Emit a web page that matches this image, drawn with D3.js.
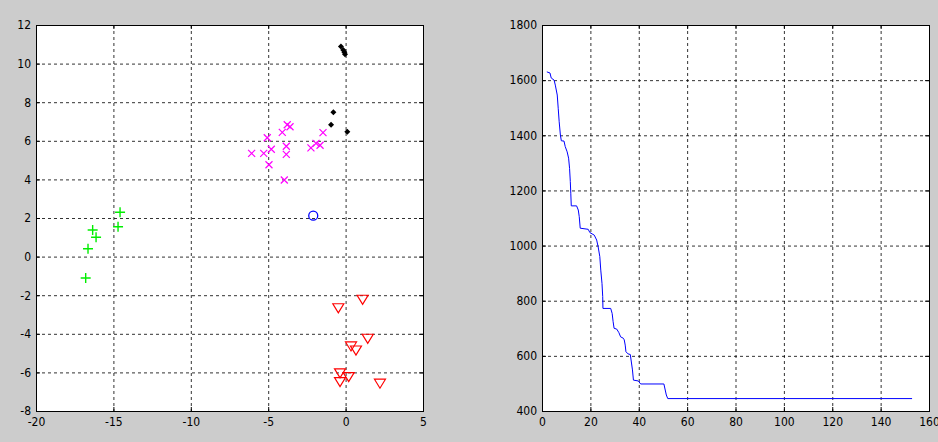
<!DOCTYPE html>
<html>
<head>
<meta charset="utf-8">
<script src="https://cdn.jsdelivr.net/npm/d3@7"></script>
<style>
  body { margin: 0; background: #cccccc; }
  svg { display: block; }
  .tick text { font-family: "Liberation Sans Narrow", "DejaVu Sans Condensed", "Liberation Sans", sans-serif; font-size: 12px; fill: #000; }
</style>
</head>
<body>
<div id="app"></div>
<script>
// scatter groups (left plot)
const blackX = [-0.30, -0.15, -0.08, -0.04, -0.79, -0.94, 0.11];
const blackY = [10.88, 10.70, 10.59, 10.48, 7.48, 6.83, 6.47];
const magentaX = [-3.77, -3.59, -4.09, -5.06, -1.46, -1.91, -1.65, -2.24, -4.80, -3.83, -6.07, -5.29, -3.83, -4.95, -3.96];
const magentaY = [6.83, 6.73, 6.44, 6.16, 6.42, 5.87, 5.77, 5.63, 5.56, 5.72, 5.35, 5.35, 5.30, 4.76, 3.97];
const greenX = [-14.57, -14.70, -16.34, -16.12, -16.64, -16.79];
const greenY = [2.30, 1.55, 1.38, 1.00, 0.41, -1.11];
const redX = [1.10, -0.47, 1.43, 0.35, 0.67, -0.36, 0.20, -0.36, 2.22];
const redY = [-2.21, -2.65, -4.23, -4.63, -4.84, -6.02, -6.22, -6.48, -6.56];
const blueX = [-2.09];
const blueY = [2.12];

// cost curve (right plot)
const iterX = [2, 3.3, 3.8, 5, 5.5, 6.3, 6.7, 7.1, 7.6, 8, 9.1, 9.6, 10.4, 11, 11.4, 11.7, 11.9, 12.1, 14.3, 15, 15.4, 15.8,
  19.1, 19.8, 21.6, 22.6, 23.2, 23.9, 24.3, 24.8, 25.1, 25.2, 28.4, 29, 29.4, 29.8, 30.9, 31.8, 32.5, 33.6, 34, 34.4, 34.7,
  35.6, 36.5, 37.4, 37.8, 39.8, 40.8, 50.4, 51.4, 52, 153];
const costY = [1630, 1626, 1608, 1600, 1582, 1546, 1498, 1449, 1401, 1380, 1379, 1359, 1340, 1317, 1280, 1232, 1190, 1144, 1144, 1129, 1105, 1063,
  1059, 1047, 1038, 1020, 996, 960, 911, 863, 815, 772, 772, 754, 724, 700, 697, 684, 669, 664, 658, 639, 615,
  607, 605, 549, 512, 509, 498, 498, 458, 445, 445];

const leftXTicks = [-20, -15, -10, -5, 0, 5];
const leftYTicks = [-8, -6, -4, -2, 0, 2, 4, 6, 8, 10, 12];
const rightXTicks = [0, 20, 40, 60, 80, 100, 120, 140, 160];
const rightYTicks = [400, 600, 800, 1000, 1200, 1400, 1600, 1800];

const width = 938, height = 442;
const svg = d3.select("#app").append("svg").attr("width", width).attr("height", height);
const fmt = d => String(d); // plain hyphen minus, no thousands separator

function axes(xs, ys, xt, yt) {
  const [x0, x1] = xs.range();
  const [y0, y1] = ys.range();
  const g = svg.append("g");
  g.append("rect").attr("x", x0).attr("y", y1).attr("width", x1 - x0).attr("height", y0 - y1).attr("fill", "#fff");

  // GRID
  g.selectAll(".gx").data(xt.slice(1, -1)).join("line")
    .attr("x1", d => xs(d) + 0.5).attr("x2", d => xs(d) + 0.5).attr("y1", y1).attr("y2", y0)
    .attr("stroke", "#000").attr("stroke-dasharray", "3 3").attr("stroke-width", 1).attr("opacity", 0.8);
  g.selectAll(".gy").data(yt.slice(1, -1)).join("line")
    .attr("y1", d => ys(d) + 0.5).attr("y2", d => ys(d) + 0.5).attr("x1", x0).attr("x2", x1)
    .attr("stroke", "#000").attr("stroke-dasharray", "3 3").attr("stroke-width", 1).attr("opacity", 0.8);

  // AXES, ticks pointing inward
  g.append("g").attr("transform", `translate(0,${y0})`)
    .call(d3.axisBottom(xs).tickValues(xt).tickFormat(fmt).tickSize(-4).tickPadding(6).tickSizeOuter(0))
    .call(a => a.select(".domain").remove());
  g.append("g").attr("transform", `translate(0,${y1})`)
    .call(d3.axisTop(xs).tickValues(xt).tickSize(-4).tickFormat("").tickSizeOuter(0))
    .call(a => a.select(".domain").remove());
  g.append("g").attr("transform", `translate(${x0},0)`)
    .call(d3.axisLeft(ys).tickValues(yt).tickFormat(fmt).tickSize(-4).tickPadding(5).tickSizeOuter(0))
    .call(a => a.select(".domain").remove());
  g.append("g").attr("transform", `translate(${x1},0)`)
    .call(d3.axisRight(ys).tickValues(yt).tickSize(-4).tickFormat("").tickSizeOuter(0))
    .call(a => a.select(".domain").remove());

  g.append("rect").attr("x", x0 + 0.5).attr("y", y1 + 0.5).attr("width", x1 - x0).attr("height", y0 - y1)
    .attr("fill", "none").attr("stroke", "#000");
  return g;
}

// LEFT PLOT
const xL = d3.scaleLinear().domain([-20, 5]).range([36, 423]);
const yL = d3.scaleLinear().domain([-8, 12]).range([411, 25]);
const gL = axes(xL, yL, leftXTicks, leftYTicks);

const pts = (xa, ya) => xa.map((d, i) => [xL(d), yL(ya[i])]);

gL.selectAll(".blk").data(pts(blackX, blackY)).join("path")
  .attr("d", d => `M${d[0]},${d[1] - 3}L${d[0] + 3},${d[1]}L${d[0]},${d[1] + 3}L${d[0] - 3},${d[1]}Z`)
  .attr("fill", "#000");

gL.selectAll(".mag").data(pts(magentaX, magentaY)).join("path")
  .attr("d", d => `M${d[0] - 3.5},${d[1] - 3.5}L${d[0] + 3.5},${d[1] + 3.5}M${d[0] - 3.5},${d[1] + 3.5}L${d[0] + 3.5},${d[1] - 3.5}`)
  .attr("stroke", "#ff00ff").attr("stroke-width", 1.2).attr("fill", "none");

gL.selectAll(".grn").data(pts(greenX, greenY)).join("path")
  .attr("d", d => `M${d[0] - 5},${d[1]}L${d[0] + 5},${d[1]}M${d[0]},${d[1] - 5}L${d[0]},${d[1] + 5}`)
  .attr("stroke", "#00ee00").attr("stroke-width", 1.4).attr("fill", "none");

gL.selectAll(".red").data(pts(redX, redY)).join("path")
  .attr("d", d => `M${d[0] - 5.5},${d[1] - 4}L${d[0] + 5.5},${d[1] - 4}L${d[0]},${d[1] + 5}Z`)
  .attr("stroke", "#ff0000").attr("stroke-width", 1.2).attr("fill", "none");

gL.selectAll(".blu").data(pts(blueX, blueY)).join("circle")
  .attr("cx", d => d[0]).attr("cy", d => d[1]).attr("r", 4.5)
  .attr("stroke", "#0000ff").attr("stroke-width", 1.3).attr("fill", "none");

// RIGHT PLOT
const xR = d3.scaleLinear().domain([0, 160]).range([542, 929]);
const yR = d3.scaleLinear().domain([400, 1800]).range([411, 25]);
const gR = axes(xR, yR, rightXTicks, rightYTicks);

const line = d3.line().x(d => xR(d[0])).y(d => yR(d[1]));
gR.append("path").datum(iterX.map((d, i) => [d, costY[i]]))
  .attr("d", line).attr("fill", "none").attr("stroke", "#0000ff").attr("stroke-width", 1);
</script>
</body>
</html>
